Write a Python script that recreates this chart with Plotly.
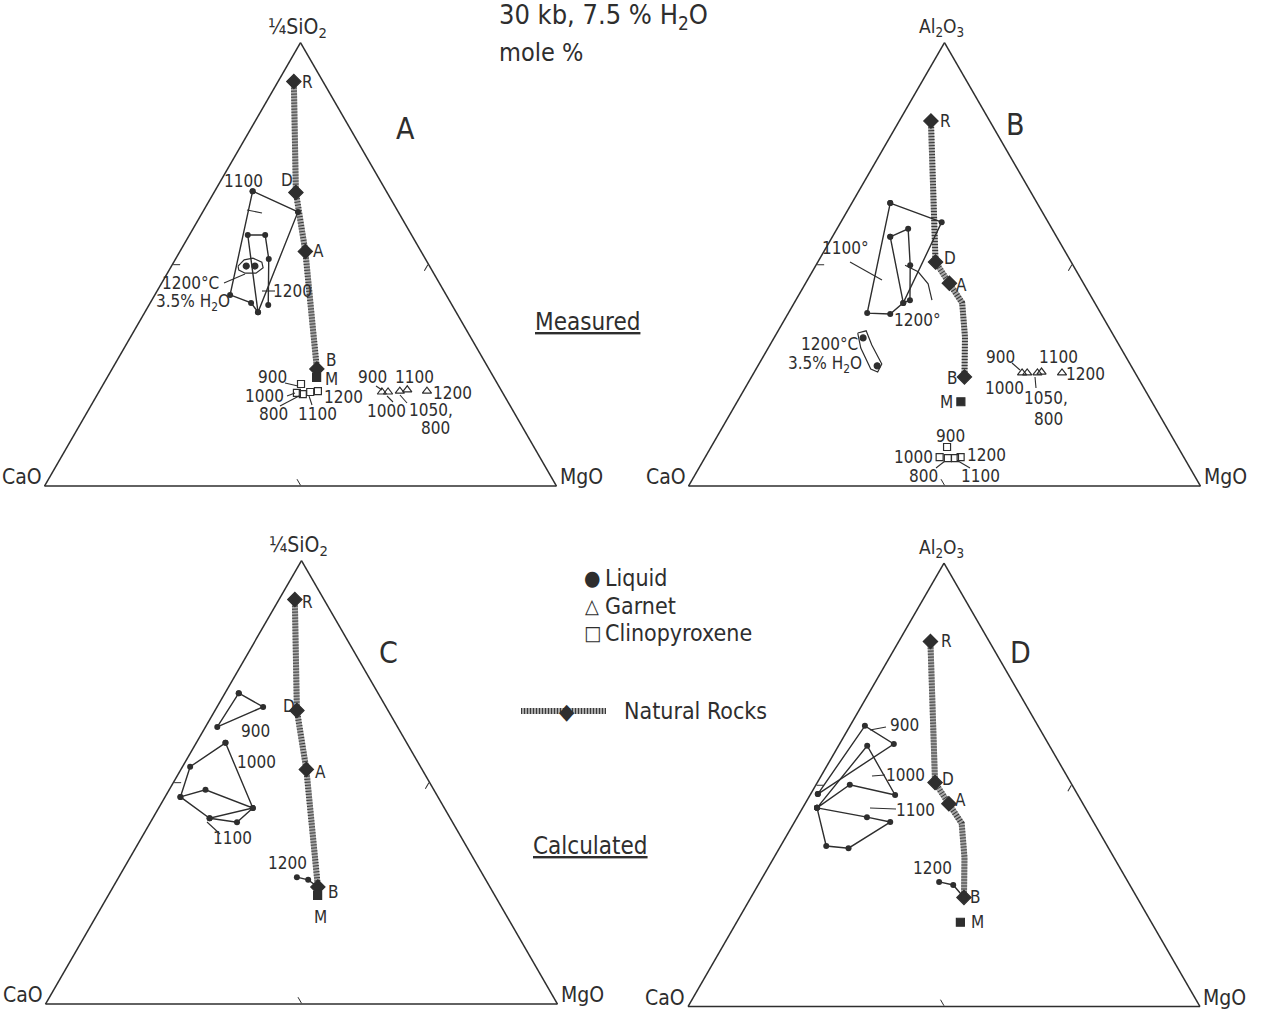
import plotly.graph_objects as go

FONT = "DejaVu Sans Condensed, Liberation Sans Narrow, Arial Narrow, sans-serif"
INK = "#2e2e2e"
W, H = 1264, 1016

# ---------------- data (mole %): a = apex oxide, c = MgO, CaO = remainder ----------------
rock_names = ["R", "D", "A", "B"]
si_rock_a = [91.2, 66.2, 52.9, 26.4]
si_rock_c = [3.1, 16.0, 24.5, 40.0]
si_M_a = [24.5]
si_M_c = [40.9]

al_rock_a = [82.3, 50.5, 45.7, 24.6]
al_rock_c = [6.2, 23.0, 28.1, 41.6]
al_trend_a = [82.3, 50.5, 45.7, 41.3, 33.6, 24.6]
al_trend_c = [6.2, 23.0, 28.1, 32.8, 37.2, 41.6]
al_M_a = [19.0]
al_M_c = [43.7]

# Panel A (measured, 1/4 SiO2)
A_liq1100_a = [66.5, 61.8, 39.2, 41.3, 43.1, 66.5]
A_liq1100_c = [7.4, 18.6, 22.1, 19.7, 14.7, 7.4]
A_liq1200_a = [40.8, 51.2, 56.6, 56.6, 39.2]
A_liq1200_c = [23.3, 18.2, 14.8, 11.4, 22.1]
A_wet_a = [49.6, 51.0, 51.4, 50.5, 49.2, 48.0, 48.0, 48.7, 49.6]
A_wet_c = [13.0, 13.5, 15.0, 17.2, 18.1, 17.3, 15.2, 13.6, 13.0]
A_wetliq_a = [49.6, 49.6]
A_wetliq_c = [14.6, 16.3]
A_gt_a = [21.2, 21.2, 21.4, 21.7, 21.4]
A_gt_c = [55.3, 56.5, 58.7, 60.0, 64.0]
A_cpx_a = [23.0, 21.0, 20.7, 21.2, 21.4]
A_cpx_c = [38.6, 38.8, 40.1, 41.3, 42.7]

# Panel B (measured, Al2O3)
B_liq1100_a = [63.8, 59.5, 41.3, 38.8, 39.0, 63.8]
B_liq1100_c = [7.5, 19.7, 21.3, 20.0, 15.4, 7.5]
B_liq1200_a = [56.2, 58.0, 49.8, 41.9, 41.3, 56.2]
B_liq1200_c = [11.3, 13.9, 18.4, 22.3, 21.3, 11.3]
B_arc_a = [49.8, 48.3, 45.6, 41.9]
B_arc_c = [17.4, 20.7, 24.0, 26.6]
B_wet_a = [34.5, 35.0, 31.8, 27.5, 25.7, 26.4, 31.1, 34.5]
B_wet_c = [15.8, 17.2, 19.9, 24.0, 24.1, 22.4, 18.1, 15.8]
B_wetliq_a = [33.4, 27.1]
B_wetliq_c = [17.4, 23.3]
B_gt_a = [25.5, 25.5, 25.5, 25.7, 25.5]
B_gt_c = [52.4, 53.4, 55.4, 56.1, 60.2]
B_cpx_a = [8.8, 6.5, 6.3, 6.3, 6.5]
B_cpx_c = [46.1, 45.8, 47.5, 48.9, 49.9]

# Panel C (calculated, 1/4 SiO2)
C_liq900_a = [70.1, 67.0, 62.5, 70.1]
C_liq900_c = [2.7, 9.0, 2.3, 2.7]
C_liq1000_a = [58.9, 53.5, 46.7, 41.9, 44.2, 58.9]
C_liq1000_c = [5.7, 1.5, 3.0, 11.1, 18.4, 5.7]
C_liq1100_a = [46.7, 48.3, 44.2, 41.0, 41.9]
C_liq1100_c = [3.0, 7.1, 18.4, 16.9, 11.1]
C_liq1200_a = [28.6, 28.0, 26.4]
C_liq1200_c = [34.8, 37.3, 40.0]

# Panel D (calculated, Al2O3)
D_liq900_a = [47.9, 63.3, 59.2, 47.9]
D_liq900_c = [1.4, 2.9, 10.6, 1.4]
D_liq1000_a = [44.8, 58.8, 47.7, 50.0, 44.8]
D_liq1000_c = [2.8, 5.6, 16.6, 6.6, 2.8]
D_liq1100_a = [44.8, 36.2, 35.7, 41.6, 42.7, 44.8]
D_liq1100_c = [2.8, 8.9, 13.5, 18.7, 13.6, 2.8]
D_liq1200_a = [28.1, 27.4, 24.6]
D_liq1200_c = [35.0, 38.1, 41.6]

fig = go.Figure()


def line(sub, a, c, width=1.4, color=INK, dots=True):
    fig.add_trace(go.Scatterternary(
        subplot=sub, a=a, c=c, b=[100 - x - y for x, y in zip(a, c)],
        mode="lines+markers" if dots else "lines",
        line=dict(color=color, width=width),
        marker=dict(size=6, color=INK), hoverinfo="skip", showlegend=False))


def pts(sub, a, c, symbol, size, color=INK, lw=1.2):
    fig.add_trace(go.Scatterternary(
        subplot=sub, a=a, c=c, b=[100 - x - y for x, y in zip(a, c)], mode="markers",
        marker=dict(symbol=symbol, size=size, color=color, line=dict(color=INK, width=lw)),
        hoverinfo="skip", showlegend=False))


def rocks(sub, ta, tc, ra, rc, ma, mc):
    b = [100 - x - y for x, y in zip(ta, tc)]
    fig.add_trace(go.Scatterternary(subplot=sub, a=ta, c=tc, b=b, mode="lines",
                                    line=dict(color="#a8a8a8", width=6), hoverinfo="skip", showlegend=False))
    fig.add_trace(go.Scatterternary(subplot=sub, a=ta, c=tc, b=b, mode="lines",
                                    line=dict(color="#3a3a3a", width=6, dash="1px,2px"),
                                    hoverinfo="skip", showlegend=False))
    pts(sub, ra, rc, "diamond", 11)
    pts(sub, ma, mc, "square", 8)


# Panel A
rocks("ternary", si_rock_a, si_rock_c, si_rock_a, si_rock_c, si_M_a, si_M_c)
line("ternary", A_liq1100_a, A_liq1100_c)
line("ternary", A_liq1200_a, A_liq1200_c)
line("ternary", A_wet_a, A_wet_c, width=1.2, dots=False)
pts("ternary", A_wetliq_a, A_wetliq_c, "circle", 6)
pts("ternary", A_gt_a, A_gt_c, "triangle-up-open", 8)
pts("ternary", A_cpx_a, A_cpx_c, "square-open", 7)

# Panel B
rocks("ternary2", al_trend_a, al_trend_c, al_rock_a, al_rock_c, al_M_a, al_M_c)
line("ternary2", B_liq1100_a, B_liq1100_c)
line("ternary2", B_liq1200_a, B_liq1200_c)
line("ternary2", B_arc_a, B_arc_c, width=1.2, dots=False)
line("ternary2", B_wet_a, B_wet_c, width=1.2, dots=False)
pts("ternary2", B_wetliq_a, B_wetliq_c, "circle", 6)
pts("ternary2", B_gt_a, B_gt_c, "triangle-up-open", 8)
pts("ternary2", B_cpx_a, B_cpx_c, "square-open", 7)

# Panel C
rocks("ternary3", si_rock_a, si_rock_c, si_rock_a, si_rock_c, si_M_a, si_M_c)
line("ternary3", C_liq900_a, C_liq900_c)
line("ternary3", C_liq1000_a, C_liq1000_c)
line("ternary3", C_liq1100_a, C_liq1100_c)
line("ternary3", C_liq1200_a, C_liq1200_c)

# Panel D
rocks("ternary4", al_trend_a, al_trend_c, al_rock_a, al_rock_c, al_M_a, al_M_c)
line("ternary4", D_liq900_a, D_liq900_c)
line("ternary4", D_liq1000_a, D_liq1000_c)
line("ternary4", D_liq1100_a, D_liq1100_c)
line("ternary4", D_liq1200_a, D_liq1200_c)

# ---------------- layout ----------------
TRI_W = 512.0
TRI_H = TRI_W * 3 ** 0.5 / 2


def dom(xl, base):
    return dict(x=[xl / W, (xl + TRI_W) / W], y=[1 - base / H, 1 - (base - TRI_H) / H])


def axis():
    return dict(showgrid=False, showticklabels=False, ticks="inside", ticklen=7,
                tickcolor=INK, tickwidth=1.3, tickmode="array", tickvals=[50],
                linecolor=INK, linewidth=1.5, title=dict(text=""), min=0)


def tern(xl, base):
    return dict(domain=dom(xl, base), sum=100, bgcolor="white",
                aaxis=axis(), baxis=axis(), caxis=axis())


def P(x, y):
    return x / W, 1 - y / H


annotations = []


def T(text, x, y, size=18, anchor="center", under=False):
    px, py = P(x, y)
    f = dict(family=FONT, size=size, color=INK)
    if under:
        f["lineposition"] = "under"
    annotations.append(dict(text=text, x=px, y=py, xref="paper", yref="paper",
                            xanchor=anchor, yanchor="middle", showarrow=False, font=f))


shapes = []


def L(x0, y0, x1, y1, w=1.1, color=INK, dash="solid"):
    a0, b0 = P(x0, y0)
    a1, b1 = P(x1, y1)
    shapes.append(dict(type="line", xref="paper", yref="paper", x0=a0, y0=b0, x1=a1, y1=b1,
                       line=dict(color=color, width=w, dash=dash)))


# titles & legend
T("30 kb, 7.5 % H<sub>2</sub>O", 497, 17, 27, "left")
T("mole %", 497, 52, 25, "left")
T("Measured", 587, 322, 24, under=True)
T("Calculated", 590, 846, 24, under=True)
T("●", 592, 578, 21)
T("Liquid", 603, 578, 23, "left")
T("△", 592, 606, 20)
T("Garnet", 603, 606, 23, "left")
T("□", 592, 633, 20)
T("Clinopyroxene", 603, 633, 23, "left")
T("Natural Rocks", 622, 711, 23, "left")
L(521, 711, 606, 711, w=6, color="#a8a8a8")
L(521, 711, 606, 711, w=6, color="#3a3a3a", dash="1px,2px")
T("◆", 567, 711, 22)

# vertex labels
for (cx, base, top, tsz) in [(300.5, 486, "¼SiO<sub>2</sub>", 21), (944.5, 486, "Al<sub>2</sub>O<sub>3</sub>", 19),
                             (301.5, 1004, "¼SiO<sub>2</sub>", 21), (944, 1006.5, "Al<sub>2</sub>O<sub>3</sub>", 19)]:
    T(top, cx - 3, base - TRI_H - 15, tsz)
    T("CaO", cx - TRI_W / 2 - 1, base - 9, 21, "right")
    T("MgO", cx + TRI_W / 2 + 1, base - 9, 21, "left")

# panel letters
T("A", 405, 128, 30)
T("B", 1016, 124, 30)
T("C", 389, 652, 30)
T("D", 1020, 652, 30)

# Panel A labels
for t, x, y in [("R", 307, 82), ("1100", 243, 181), ("D", 287, 180), ("A", 318, 251),
                ("1200°C", 190, 283), ("3.5% H<sub>2</sub>O", 193, 302), ("1200", 292, 291),
                ("B", 331, 360), ("M", 331, 379),
                ("900", 272, 377), ("1000", 264, 396), ("1200", 343, 397), ("800", 273, 414),
                ("1100", 317, 414),
                ("900", 372, 377), ("1100", 414, 377), ("1200", 452, 393), ("1000", 386, 411),
                ("1050,", 431, 410), ("800", 435, 428)]:
    T(t, x, y, 17)
L(247, 210, 262, 213)
L(262, 291, 275, 291)
L(224, 283, 245, 274)
L(285, 383, 298, 386)
L(287, 396, 295, 393)
L(280, 406, 299, 396)
L(312, 405, 309, 396)
L(376, 386, 382, 390)
L(393, 402, 387, 396)
L(407, 403, 400, 395)

# Panel B labels
for t, x, y in [("R", 945, 121), ("D", 950, 258), ("A", 962, 285), ("1100°", 845, 248),
                ("1200°", 917, 320), ("1200°C", 830, 344), ("3.5% H<sub>2</sub>O", 825, 364),
                ("B", 952, 378), ("M", 946, 402),
                ("900", 1000, 357), ("1100", 1058, 357), ("1200", 1085, 374), ("1000", 1004, 388),
                ("1050,", 1046, 398), ("800", 1048, 419),
                ("900", 950, 436), ("1000", 913, 457), ("1200", 986, 455), ("800", 923, 476),
                ("1100", 980, 476)]:
    T(t, x, y, 17)
L(850, 262, 882, 280)
L(1012, 363, 1020, 370)
L(1036, 388, 1035, 377)
L(936, 468, 945, 461)
L(970, 468, 958, 461)

# Panel C labels
for t, x, y in [("R", 307, 602), ("D", 289, 706), ("A", 320, 772), ("900", 255, 731),
                ("1000", 256, 762), ("1100", 232, 838), ("1200", 287, 863), ("B", 333, 892),
                ("M", 320, 917)]:
    T(t, x, y, 17)
L(220, 834, 207, 822)

# Panel D labels
for t, x, y in [("R", 946, 641), ("900", 904, 725), ("1000", 905, 775), ("D", 948, 779),
                ("A", 960, 800), ("1100", 915, 810), ("1200", 932, 868), ("B", 975, 897),
                ("M", 977, 922)]:
    T(t, x, y, 17)
L(870, 730, 886, 727)
L(872, 776, 885, 775)
L(870, 808, 896, 809)

fig.update_layout(
    width=W, height=H, autosize=False,
    margin=dict(l=0, r=0, t=0, b=0),
    paper_bgcolor="white", plot_bgcolor="white",
    ternary=tern(44.5, 486), ternary2=tern(688.5, 486),
    ternary3=tern(45.5, 1004), ternary4=tern(688, 1006.5),
    annotations=annotations, shapes=shapes, showlegend=False,
)

fig.write_html("out.html", config={"displayModeBar": False},
               post_script="document.body.style.margin='0px';document.body.style.overflow='hidden';")
